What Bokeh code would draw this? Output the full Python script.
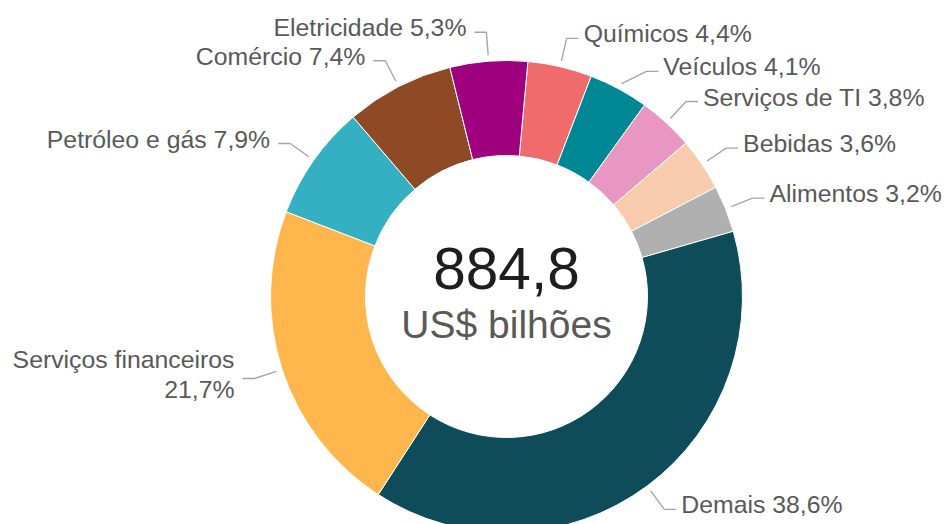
import math
from bokeh.plotting import figure
from bokeh.models import Range1d, ColumnDataSource
from bokeh.core.properties import value
from bokeh.embed import file_html
from bokeh.resources import INLINE

# ---------------- data ----------------
sectors = ["Químicos", "Veículos", "Serviços de TI", "Bebidas", "Alimentos",
           "Demais", "Serviços financeiros", "Petróleo e gás", "Comércio", "Eletricidade"]
shares = [4.4, 4.1, 3.8, 3.6, 3.2, 38.6, 21.7, 7.9, 7.4, 5.3]
colors = ["#F06C6C", "#008795", "#E897C3", "#F8CBAD", "#B0B0B0",
          "#0F4C5A", "#FFB74D", "#35AFC2", "#8E4A24", "#9E007E"]
total_label = "884,8"
unit_label = "US$ bilhões"

# ---------------- layout ----------------
W, H = 949, 524
cx, cy = 506, H - 296      # donut centre (data units == pixels)
R_OUT, R_IN = 236, 141
OFFSET = 5.2               # first slice angle, degrees clockwise from top
R_LEAD, R_ELBOW = 242, 265
FONT = "Liberation Sans"
TXT = "#595959"
LBL_PX, BIG_PX, UNIT_PX = 24.8, 58.5, 39
BASE_FIX = 0.38            # baseline correction (fraction of font size)

p = figure(width=W, height=H, output_backend="svg", toolbar_location=None,
           x_range=Range1d(0, W), y_range=Range1d(0, H), min_border=0)
p.axis.visible = False
p.grid.visible = False
p.outline_line_color = None
p.background_fill_color = "white"

starts, ends, mids = [], [], []
cum = 0.0
for s in shares:
    t0 = OFFSET + cum * 3.6
    t1 = t0 + s * 3.6
    starts.append(math.radians(90 - t0))
    ends.append(math.radians(90 - t1))
    mids.append((t0 + t1) / 2)
    cum += s

src = ColumnDataSource(dict(start=starts, end=ends, color=colors))
p.annular_wedge(x=cx, y=cy, inner_radius=R_IN, outer_radius=R_OUT,
                start_angle="start", end_angle="end", direction="clock",
                fill_color="color", line_color="white", line_width=1, source=src)

# ---------------- labels ----------------
def fmt(v):
    return ("%.1f" % v).replace(".", ",") + "%"

items = []
for name, s, m in zip(sectors, shares, mids):
    right = math.sin(math.radians(m)) > 0
    ay = cy + R_ELBOW * math.cos(math.radians(m))
    items.append(dict(name=name, share=s, mid=m, right=right, la=m, ey=ay))

# simple collision avoidance per side (top to bottom)
for side in (True, False):
    grp = sorted([it for it in items if it["right"] == side], key=lambda d: -d["ey"])
    prev = None
    for it in grp:
        if prev is not None and prev - it["ey"] < 27:
            target = prev - 33
            a = math.degrees(math.acos(max(-1, min(1, (target - cy) / R_ELBOW))))
            it["la"] = a if side else 360 - a
            it["ey"] = target
        prev = it["ey"]

lx, ly = [], []
rt = dict(x=[], y=[], text=[])
lt = dict(x=[], y=[], text=[])
for it in items:
    m = math.radians(it["mid"])
    la = math.radians(it["la"])
    sx, sy = cx + R_LEAD * math.sin(m), cy + R_LEAD * math.cos(m)
    ex, ey = cx + R_ELBOW * math.sin(la), cy + R_ELBOW * math.cos(la)
    label = it["name"] + " " + fmt(it["share"])
    lines = [it["name"], fmt(it["share"])] if len(label) > 22 else [label]
    if it["right"]:
        hx, tx, tgt = ex + 12, ex + 17, rt
    else:
        hx, tx, tgt = ex - 12, ex - 20, lt
    lx.append([sx, ex, hx])
    ly.append([sy, ey, ey])
    n = len(lines)
    for i, ln in enumerate(lines):
        tgt["x"].append(tx)
        tgt["y"].append(ey - 5 - (i - (n - 1) / 2) * 30 + BASE_FIX * LBL_PX)
        tgt["text"].append(ln)

p.multi_line(xs=lx, ys=ly, line_color="#A6A6A6", line_width=1.4)
p.text(x="x", y="y", text="text", source=ColumnDataSource(rt),
       text_font=value(FONT), text_font_size=f"{LBL_PX}px", text_color=TXT,
       text_align="left", text_baseline="alphabetic")
p.text(x="x", y="y", text="text", source=ColumnDataSource(lt),
       text_font=value(FONT), text_font_size=f"{LBL_PX}px", text_color=TXT,
       text_align="right", text_baseline="alphabetic")

# centre texts
p.text(x=[cx], y=[cy + 6 + BASE_FIX * BIG_PX], text=[total_label], text_font=value(FONT),
       text_font_size=f"{BIG_PX}px", text_color="#1E1E1E",
       text_align="center", text_baseline="alphabetic")
p.text(x=[cx], y=[cy - 43 + BASE_FIX * UNIT_PX], text=[unit_label], text_font=value(FONT),
       text_font_size=f"{UNIT_PX}px", text_color=TXT,
       text_align="center", text_baseline="alphabetic")

open("out.html", "w").write(file_html(p, INLINE))
